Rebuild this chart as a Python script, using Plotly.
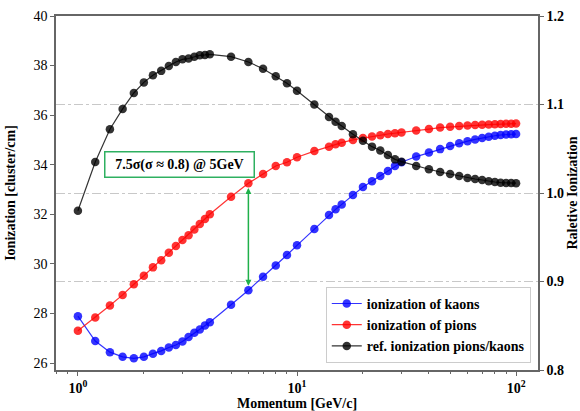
import plotly.graph_objects as go
import math

momentum = [1.0, 1.2, 1.4, 1.6, 1.8, 2.0, 2.2, 2.4, 2.6, 2.8, 3.0, 3.2, 3.4, 3.6, 3.8, 4.0,
            5, 6, 7, 8, 9, 10, 12, 14, 15, 16, 18, 20, 22, 24, 26, 28, 30,
            35, 40, 45, 50, 55, 60, 65, 70, 75, 80, 85, 90, 95, 100]

kaons = [27.89, 26.89, 26.44, 26.25, 26.19, 26.25, 26.38, 26.49, 26.63, 26.73, 26.87, 27.05, 27.22, 27.35, 27.52, 27.65,
         28.35, 28.94, 29.48, 29.94, 30.36, 30.75, 31.41, 31.97, 32.2, 32.4, 32.78, 33.1, 33.33, 33.55, 33.75, 33.95, 34.1,
         34.33, 34.49, 34.63, 34.76, 34.87, 34.95, 35.02, 35.08, 35.13, 35.17, 35.2, 35.22, 35.23, 35.24]

pions = [27.30, 27.84, 28.32, 28.75, 29.18, 29.52, 29.86, 30.15, 30.45, 30.72, 30.96, 31.16, 31.39, 31.61, 31.81, 32.0,
         32.71, 33.25, 33.63, 33.95, 34.1, 34.3, 34.55, 34.73, 34.83, 34.89, 35.0, 35.08, 35.14, 35.19, 35.24, 35.27, 35.3,
         35.38, 35.44, 35.5, 35.53, 35.56, 35.58, 35.6, 35.61, 35.62, 35.63, 35.64, 35.65, 35.65, 35.66]

ratio = [0.980, 1.035, 1.072, 1.095, 1.113, 1.125, 1.133, 1.138, 1.1435, 1.148, 1.151, 1.152, 1.154, 1.1556, 1.156, 1.1567,
         1.154, 1.148, 1.1405, 1.132, 1.124, 1.1156, 1.100, 1.086, 1.0806, 1.0757, 1.0663, 1.059, 1.0524, 1.048, 1.043, 1.038, 1.0354,
         1.0305, 1.0268, 1.0237, 1.0215, 1.0192, 1.017, 1.0158, 1.0147, 1.0132, 1.0124, 1.0117, 1.0113, 1.0112, 1.0111]

x_tickvals = [1, 10, 100]
x_ticktext = ["10<sup>0</sup>", "10<sup>1</sup>", "10<sup>2</sup>"]
y_tickvals = [26, 28, 30, 32, 34, 36, 38, 40]
y2_tickvals = [0.8, 0.9, 1.0, 1.1, 1.2]
y2_ticktext = ["0.8", "0.9", "1.0", "1.1", "1.2"]

annot_text = "7.5σ(σ ≈ 0.8) @ 5GeV"
arrow_x = 6
arrow_top = 33.12
arrow_bottom = 29.12

FONT = "Liberation Serif"
AX = "#666666"
TF = dict(family=FONT, size=14, color="black")

fig = go.Figure()
fig.add_trace(go.Scatter(x=momentum, y=kaons, mode="lines+markers", name="<b>ionization of kaons</b>",
                         line=dict(color="rgba(0,0,255,0.8)", width=1.2),
                         marker=dict(color="rgba(0,0,255,0.8)", size=8.5), yaxis="y"))
fig.add_trace(go.Scatter(x=momentum, y=pions, mode="lines+markers", name="<b>ionization of pions</b>",
                         line=dict(color="rgba(255,0,0,0.8)", width=1.2),
                         marker=dict(color="rgba(255,0,0,0.8)", size=8.5), yaxis="y"))
fig.add_trace(go.Scatter(x=momentum, y=ratio, mode="lines+markers", name="<b>ref. ionization pions/kaons</b>",
                         line=dict(color="rgba(0,0,0,0.8)", width=1.2),
                         marker=dict(color="rgba(0,0,0,0.8)", size=8.5), yaxis="y2"))

fig.add_annotation(x=0.465, y=33.99, xref="x", yref="y", text="<b>" + annot_text + "</b>",
                   showarrow=False, bordercolor="#2eb060", borderwidth=1.5, borderpad=3,
                   width=142, height=18,
                   bgcolor="white", font=dict(family=FONT, size=14, color="black"))
fig.add_annotation(x=math.log10(arrow_x), y=arrow_bottom, ax=math.log10(arrow_x), ay=arrow_top,
                   xref="x", yref="y", axref="x", ayref="y", text="", showarrow=True,
                   arrowhead=2, startarrowhead=2, arrowside="end+start", arrowsize=0.8,
                   arrowwidth=1.5, arrowcolor="#1fb04a")

fig.update_layout(
    width=580, height=411,
    margin=dict(l=56, r=42, t=16, b=41),
    paper_bgcolor="white", plot_bgcolor="white",
    font=dict(family=FONT, size=14, color="black"),
    showlegend=True,
    legend=dict(x=0.985, y=0.02, xanchor="right", yanchor="bottom",
                bgcolor="white", bordercolor="#cccccc", borderwidth=1,
                font=dict(family=FONT, size=14, color="black"),
                tracegroupgap=0, itemwidth=30),
    xaxis=dict(type="log", range=[-0.1, 2.1], tickvals=x_tickvals,
               ticktext=["<b>" + t + "</b>" for t in x_ticktext],
               ticks="outside", ticklen=4, tickcolor=AX, showline=True, linecolor=AX, linewidth=1.5,
               mirror=True, showgrid=False, zeroline=False, automargin=False,
               tickfont=TF,
               minor=dict(ticks="outside", ticklen=2, tickcolor=AX, dtick="D1", showgrid=False),
               title=dict(text="<b>Momentum [GeV/c]</b>", font=TF)),
    yaxis=dict(range=[25.72, 40], tickvals=y_tickvals, ticks="outside", ticklen=4, tickcolor=AX,
               showline=True, linecolor=AX, linewidth=1.5, showgrid=False, zeroline=False,
               automargin=False, tickfont=TF,
               tickprefix="<b>", ticksuffix="</b>",
               title=dict(text="<b>Ionization [cluster/cm]</b>", font=TF)),
    yaxis2=dict(range=[0.8, 1.2], tickvals=y2_tickvals, ticktext=["<b>" + t + "</b>" for t in y2_ticktext],
                overlaying="y", side="right", ticks="outside", ticklen=4, tickcolor=AX,
                showline=True, linecolor=AX, linewidth=1.5, zeroline=False, automargin=False,
                showgrid=True, gridcolor="#c8c8c8", griddash="dashdot", gridwidth=1,
                tickfont=TF,
                title=dict(text="<b>Raletive Ionization</b>", font=TF)),
)

fig.write_html("out.html")
